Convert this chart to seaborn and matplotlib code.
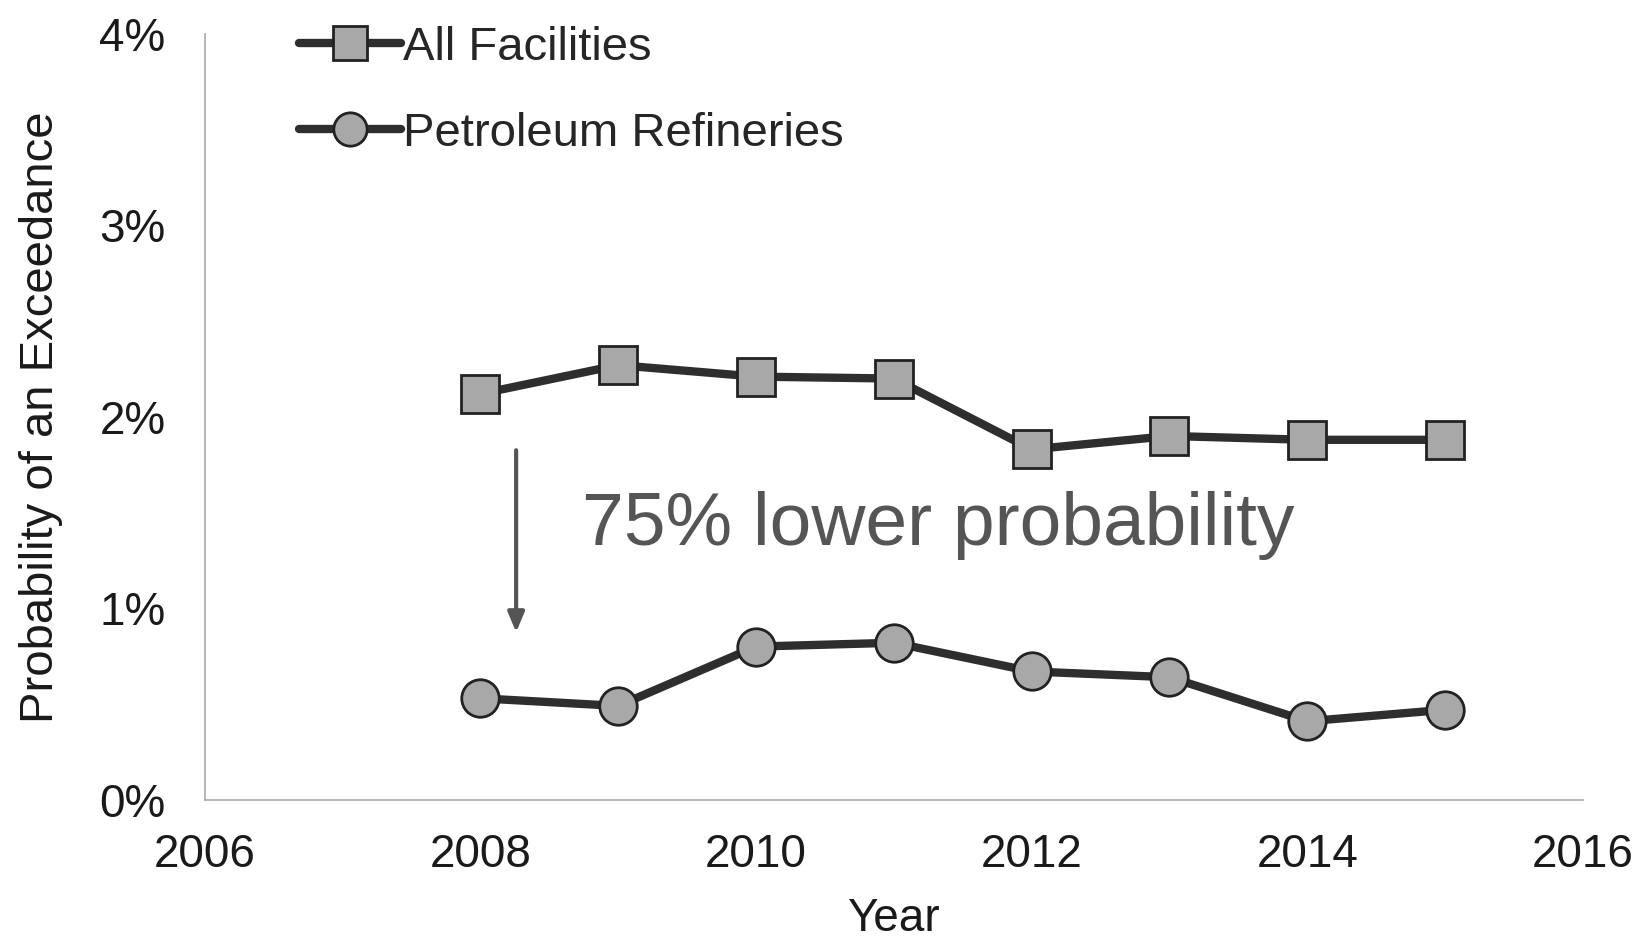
import seaborn as sns
import matplotlib.pyplot as plt
import pandas as pd

# data
years = [2008, 2009, 2010, 2011, 2012, 2013, 2014, 2015]
all_facilities = [2.12, 2.27, 2.21, 2.20, 1.83, 1.90, 1.88, 1.88]
refineries = [0.53, 0.49, 0.80, 0.82, 0.67, 0.64, 0.41, 0.47]
y_ticks = [0, 1, 2, 3, 4]
x_ticks = [2006, 2008, 2010, 2012, 2014, 2016]

df = pd.DataFrame({
    "Year": years * 2,
    "Prob": all_facilities + refineries,
    "Series": ["All Facilities"] * len(years) + ["Petroleum Refineries"] * len(years),
})

sns.set_style("white")
plt.rcParams['font.family'] = ['Liberation Sans', 'DejaVu Sans']

fig = plt.figure(figsize=(16.37, 9.42), dpi=100)
ax = fig.add_axes([0.125, 0.151, 0.842, 0.813])

sns.lineplot(data=df, x="Year", y="Prob", hue="Series", style="Series",
             markers={"All Facilities": "s", "Petroleum Refineries": "o"},
             dashes=False, palette=["#2e2e2e", "#2e2e2e"],
             linewidth=6, markersize=27, markerfacecolor="#a8a8a8",
             markeredgecolor="#222222", markeredgewidth=2, ax=ax)

ax.set_xlim(2006, 2016)
ax.set_ylim(0, 4)
ax.set_xticks(x_ticks)
ax.set_yticks(y_ticks)
ax.set_yticklabels([f"{t}%" for t in y_ticks])
ax.tick_params(labelsize=33, colors="#1a1a1a", length=6, color="#aaaaaa")
ax.tick_params(axis="x", pad=18)
ax.tick_params(axis="y", pad=22)
ax.set_xlabel("Year", fontsize=33, color="#1a1a1a", labelpad=14)
ax.set_ylabel("Probability of an Exceedance", fontsize=34, color="#1a1a1a", labelpad=26)
for s in ["top", "right"]:
    ax.spines[s].set_visible(False)
for s in ["left", "bottom"]:
    ax.spines[s].set_color("#aaaaaa")
    ax.spines[s].set_linewidth(1.2)

# arrow and annotation
ax.annotate("", xy=(2008.26, 0.86), xytext=(2008.26, 1.84),
            arrowprops=dict(arrowstyle="-|>,head_length=1.2,head_width=0.5",
                            color="#555555", lw=3))
ax.text(2008.74, 1.43, "75% lower probability", fontsize=54, color="#555555",
        va="center", ha="left")

leg = ax.legend(loc="upper left", bbox_to_anchor=(0.055, 1.035), frameon=False,
                fontsize=34, handlelength=2.15, handletextpad=0.05,
                labelspacing=0.88, borderaxespad=0)
for h in leg.legend_handles:
    h.set_markersize(24)
    h.set_markerfacecolor("#a8a8a8")
    h.set_markeredgecolor("#222222")
    h.set_linewidth(6)

fig.savefig("out.png", dpi=100)
